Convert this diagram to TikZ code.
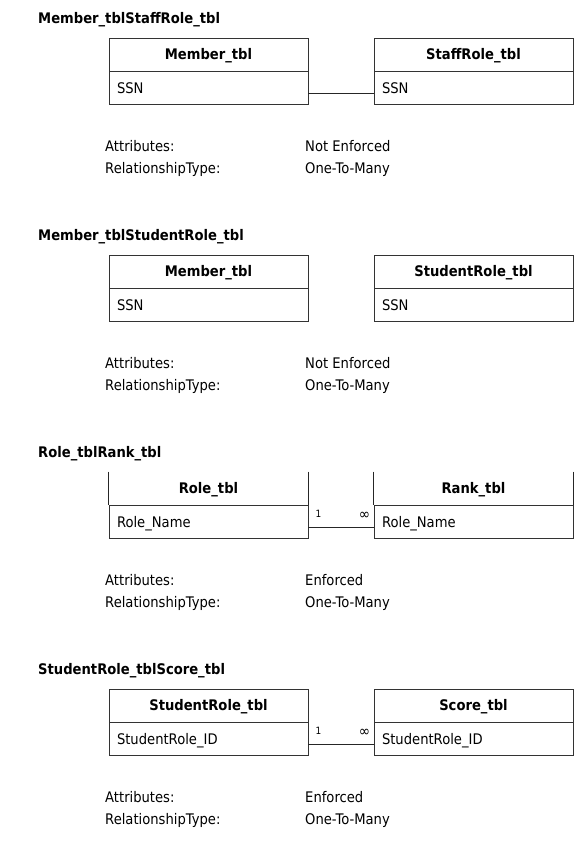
\documentclass[tikz,border=0pt]{standalone}
\usepackage{fontspec}
\setmainfont{DejaVu Sans}[FakeStretch=0.9]
\usepackage{tikz}
\usetikzlibrary{positioning}

\begin{document}
\begin{tikzpicture}[x=1pt, y=-1pt,
  font=\fontsize{14.6}{17}\selectfont,
  title/.style={anchor=base west, inner sep=0pt, font=\fontsize{14.6}{17}\selectfont\bfseries},
  tblhead/.style={draw=black!80, line width=0.9pt, minimum width=199pt, minimum height=33pt,
                  inner sep=0pt, text height=10.6pt, text depth=0pt,
                  font=\fontsize{14.6}{17}\selectfont\bfseries},
  tblfield/.style={draw=black!80, line width=0.9pt, minimum height=33pt, text width=183pt,
                   inner xsep=8pt, inner ysep=0pt, text height=10.6pt, text depth=0pt,
                   align=left, below=0pt of #1},
  prop/.style={anchor=base west, inner sep=0pt},
  card/.style={inner sep=0pt, font=\fontsize{10}{11}\selectfont},
  many/.style={inner sep=0pt, font=\fontsize{15}{15}\selectfont},
  rel/.style={line width=0.9pt, black!85}
]
\useasboundingbox (0,0) rectangle (587,852);

% Member_tbl -- StaffRole_tbl
\node[title] (t1) at (38,23.5) {Member\_tblStaffRole\_tbl};
\node[tblhead] (memA) at (208.5,54.5) {Member\_tbl};
\node[tblfield=memA] (memAf) {SSN};
\node[tblhead] (staff) at (473.5,54.5) {StaffRole\_tbl};
\node[tblfield=staff] (stafff) {SSN};
\draw[rel] ([yshift=-5.5pt]memAf.east) -- ([yshift=-5.5pt]stafff.west);

% Member_tbl -- StudentRole_tbl
\node[title] (t2) at (38,240.5) {Member\_tblStudentRole\_tbl};
\node[tblhead] (memB) at (208.5,271.5) {Member\_tbl};
\node[tblfield=memB] (memBf) {SSN};
\node[tblhead] (stuA) at (473.5,271.5) {StudentRole\_tbl};
\node[tblfield=stuA] (stuAf) {SSN};

% Role_tbl -- Rank_tbl
\node[title] (t3) at (38,457.5) {Role\_tblRank\_tbl};
\node[tblhead,draw=none] (role) at (208.5,488.5) {Role\_tbl};
\node[tblfield=role] (rolef) {Role\_Name};
\node[tblhead,draw=none] (rank) at (473.5,488.5) {Rank\_tbl};
\node[tblfield=rank] (rankf) {Role\_Name};
\foreach \n in {role,rank} {
  \draw[rel] (\n.north west) -- (\n.south west);
  \draw[rel] (\n.north east) -- (\n.south east);
}
\draw[rel] ([yshift=-5.5pt]rolef.east) -- ([yshift=-5.5pt]rankf.west);
\node[card,anchor=base west] (one3) at (315.5,517.5) {1};
\node[many] (many3) at (364.5,515.5) {∞};

% StudentRole_tbl -- Score_tbl
\node[title] (t4) at (38,674.5) {StudentRole\_tblScore\_tbl};
\node[tblhead] (stuB) at (208.5,705.5) {StudentRole\_tbl};
\node[tblfield=stuB] (stuBf) {StudentRole\_ID};
\node[tblhead] (score) at (473.5,705.5) {Score\_tbl};
\node[tblfield=score] (scoref) {StudentRole\_ID};
\draw[rel] ([yshift=-5.5pt]stuBf.east) -- ([yshift=-5.5pt]scoref.west);
\node[card,anchor=base west] (one4) at (315.5,734.5) {1};
\node[many] (many4) at (364.5,732.5) {∞};

\foreach \y/\val [count=\i] in {0/Not Enforced, 217/Not Enforced, 434/Enforced, 651/Enforced} {
  \node[prop] (attr\i) at (105,151+\y) {Attributes:};
  \node[prop] (attrv\i) at (305,151+\y) {\val};
  \node[prop] (reltype\i) at (105,173+\y) {RelationshipType:};
  \node[prop] (reltypev\i) at (305,173+\y) {One-To-Many};
}
\end{tikzpicture}
\end{document}
